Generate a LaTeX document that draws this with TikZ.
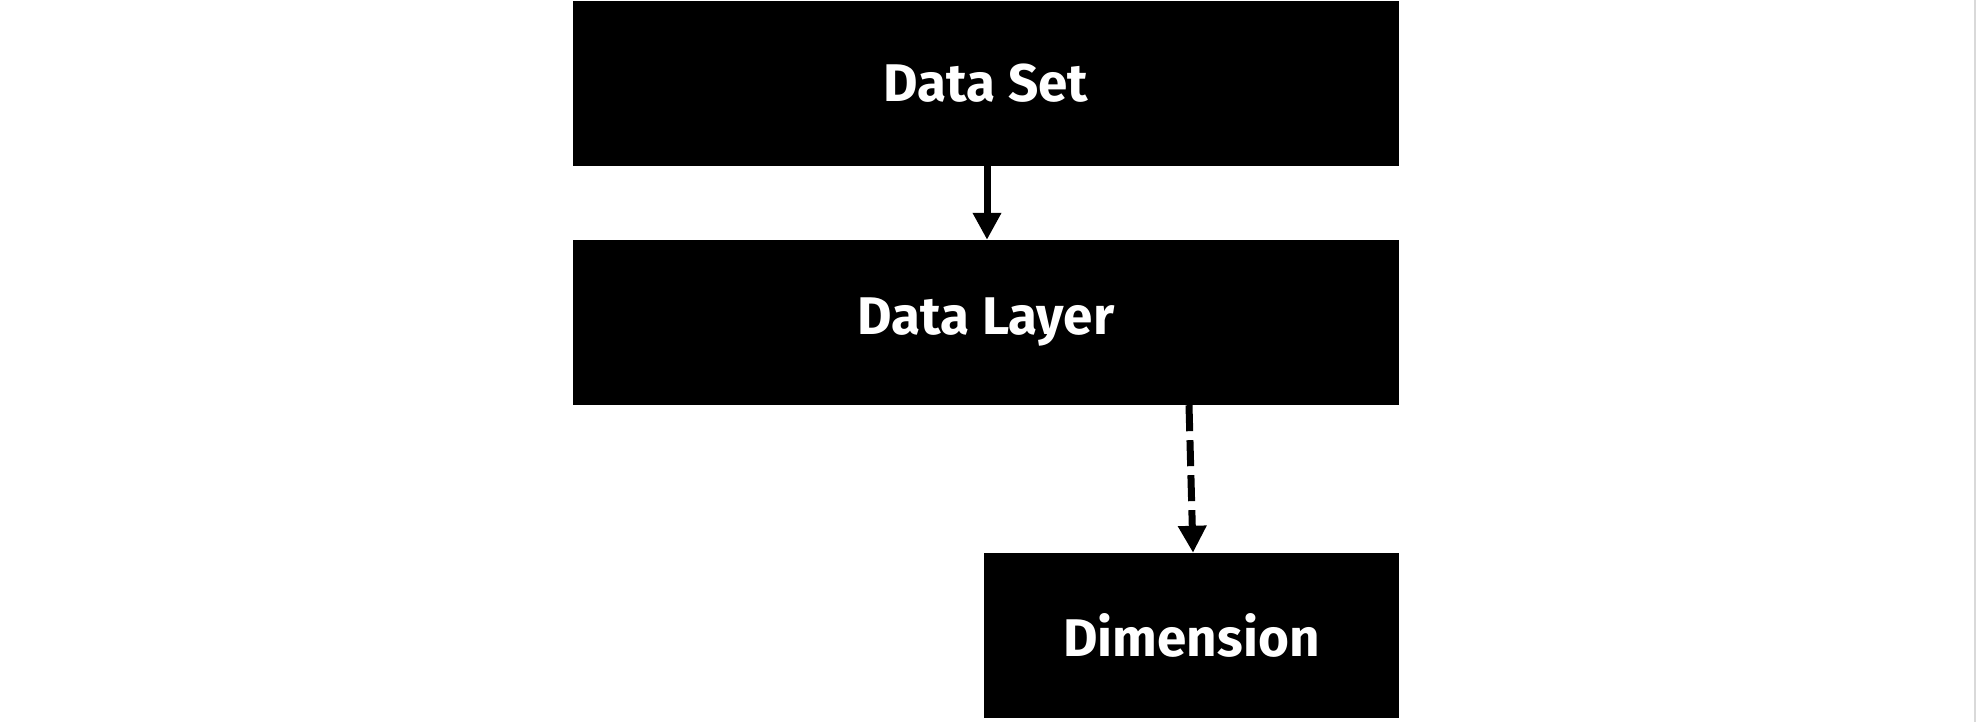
\documentclass[tikz,border=0pt]{standalone}
\usepackage{fontspec}
\setmainfont{Fira Sans}
\usetikzlibrary{arrows.meta,calc}
\begin{document}
\begin{tikzpicture}[x=1pt,y=-1pt,
  block/.style={fill=black,draw=none,text=white,inner sep=0pt,
    font=\fontsize{53}{64}\selectfont\bfseries},
  link/.style={line width=7pt,-{Triangle[width=27pt,length=27pt]}}]
\useasboundingbox (0,0) rectangle (1976,722);
\fill[gray!30] (1974,0) rectangle (1976,722);
\node[block,minimum width=826pt,minimum height=165pt] (ds) at (986,83.5) {Data Set};
\node[block,minimum width=826pt,minimum height=165pt] (dl) at (986,322.5) {Data Layer};
\node[block,minimum width=415pt,minimum height=165pt] (dim) at (1191.5,635.5) {Dimension};
\draw[link] ([xshift=1pt]ds.south) -- ([xshift=1pt]dl.north);
\draw[link,dash pattern=on 26pt off 9pt] ([xshift=203pt]dl.south) -- ([xshift=1.5pt]dim.north);
\end{tikzpicture}
\end{document}
